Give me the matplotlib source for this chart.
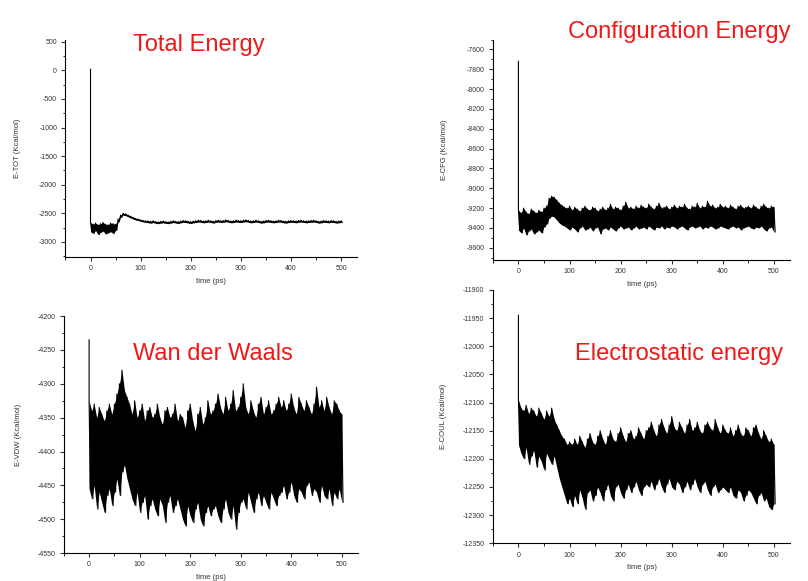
import numpy as np
import matplotlib
matplotlib.use("Agg")
import matplotlib.pyplot as plt
from matplotlib.ticker import MultipleLocator

plt.rcParams['font.family'] = ['Liberation Sans', 'DejaVu Sans']
plt.rcParams['axes.unicode_minus'] = False

# time grid (ps), 5 ps step, upper/lower envelope of the noisy trace
time_ps = np.arange(0, 505, 5)

# Total energy
tot_spike = 20
tot_hi = [-2660, -2690, -2670, -2700, -2680, -2660, -2690, -2700, -2670, -2680, -2690,
          -2600, -2530, -2500, -2510, -2530, -2550, -2570, -2590, -2600, -2615, -2625, -2630,
          -2635, -2640, -2630, -2645, -2650, -2640, -2635, -2645, -2650, -2640,
          -2630, -2640, -2645, -2635, -2625, -2630, -2640, -2645, -2635, -2630,
          -2620, -2625, -2635, -2630, -2620, -2630, -2640, -2625, -2620, -2630,
          -2625, -2615, -2625, -2635, -2630, -2620, -2625, -2630, -2620, -2615,
          -2625, -2635, -2630, -2620, -2630, -2640, -2635, -2625, -2620, -2630,
          -2635, -2630, -2620, -2625, -2635, -2640, -2630, -2625, -2630, -2635,
          -2625, -2620, -2630, -2635, -2630, -2625, -2620, -2630, -2640, -2635,
          -2625, -2630, -2635, -2625, -2630, -2640, -2635, -2630]
tot_lo = [-2820, -2850, -2800, -2870, -2830, -2810, -2860, -2840, -2820, -2850, -2800,
          -2650, -2570, -2530, -2540, -2560, -2580, -2600, -2615, -2625, -2640, -2650, -2655,
          -2665, -2670, -2660, -2675, -2680, -2670, -2665, -2675, -2680, -2670,
          -2660, -2670, -2675, -2665, -2655, -2660, -2670, -2675, -2665, -2660,
          -2650, -2655, -2665, -2660, -2650, -2660, -2670, -2655, -2650, -2660,
          -2655, -2645, -2655, -2665, -2660, -2650, -2655, -2660, -2650, -2645,
          -2655, -2665, -2660, -2650, -2660, -2670, -2665, -2655, -2650, -2660,
          -2665, -2660, -2650, -2655, -2665, -2670, -2660, -2655, -2660, -2665,
          -2655, -2650, -2660, -2665, -2660, -2655, -2650, -2660, -2670, -2665,
          -2655, -2660, -2665, -2655, -2660, -2670, -2665, -2660]

# Configuration energy
cfg_spike = -7720
cfg_hi = [-9220, -9250, -9200, -9240, -9260, -9210, -9230, -9250, -9220, -9240, -9200,
          -9180, -9100, -9080, -9090, -9120, -9150, -9170, -9190,
          -9200, -9180, -9220, -9190, -9210, -9230, -9200, -9180, -9210, -9220,
          -9190, -9200, -9230, -9210, -9190, -9220, -9200, -9160, -9210, -9190,
          -9200, -9220, -9180, -9140, -9200, -9190, -9210, -9180, -9200, -9170,
          -9190, -9200, -9160, -9190, -9210, -9180, -9150, -9200, -9190, -9180,
          -9210, -9190, -9170, -9200, -9180, -9190, -9160, -9200, -9210, -9180,
          -9190, -9150, -9200, -9180, -9190, -9130, -9180, -9170, -9200, -9190,
          -9160, -9190, -9180, -9200, -9170, -9190, -9210, -9180, -9170, -9200,
          -9190, -9180, -9200, -9170, -9190, -9210, -9180, -9160, -9190, -9200,
          -9180, -9190]
cfg_lo = [-9420, -9450, -9400, -9470, -9430, -9410, -9460, -9440, -9420, -9450, -9390,
          -9360, -9300, -9280, -9290, -9320, -9350, -9370, -9380,
          -9400, -9420, -9390, -9410, -9440, -9400, -9380, -9420, -9410, -9390,
          -9430, -9400, -9390, -9460, -9410, -9400, -9420, -9390, -9410, -9430,
          -9400, -9380, -9410, -9400, -9390, -9420, -9400, -9380, -9410, -9400,
          -9390, -9410, -9380, -9400, -9420, -9390, -9400, -9380, -9410, -9390,
          -9400, -9380, -9390, -9410, -9390, -9380, -9400, -9420, -9390, -9380,
          -9400, -9390, -9380, -9410, -9390, -9400, -9380, -9390, -9410, -9400,
          -9380, -9390, -9400, -9410, -9390, -9380, -9400, -9390, -9420, -9400,
          -9390, -9380, -9400, -9410, -9390, -9400, -9380, -9410, -9430, -9400,
          -9390, -9440]

# Van der Waals energy
vdw_spike = -4235
vdw_hi = [-4325, -4340, -4330, -4350, -4335, -4345, -4355, -4340, -4330, -4345, -4330,
          -4315, -4300, -4280, -4310, -4320,
          -4330, -4345, -4325, -4350, -4340, -4330, -4355, -4340, -4335, -4350,
          -4345, -4330, -4350, -4360, -4340, -4335, -4350, -4345, -4330, -4355, -4345,
          -4350, -4365, -4340, -4330, -4355, -4370, -4345, -4335, -4360, -4350, -4325, -4345, -4340,
          -4330, -4315, -4335, -4345, -4320, -4340, -4330, -4310, -4340, -4335, -4320,
          -4300, -4335, -4345, -4325, -4340, -4350, -4330, -4320, -4345, -4335, -4325, -4345,
          -4340, -4330, -4320, -4335,
          -4325, -4340, -4330, -4315, -4335, -4345, -4320, -4330, -4340, -4325, -4335, -4345, -4330,
          -4305, -4335, -4325, -4340, -4320, -4335, -4345, -4325, -4330, -4340, -4345]
vdw_lo = [-4455, -4470, -4450, -4485, -4460, -4475, -4490, -4465, -4455, -4480, -4460,
          -4440, -4465, -4430, -4420, -4440,
          -4455, -4470, -4480, -4460, -4490, -4475, -4465, -4500, -4480, -4470,
          -4485, -4495, -4470, -4480, -4505, -4475, -4465, -4490, -4480, -4470, -4485,
          -4500, -4510, -4480, -4495, -4505, -4485, -4475, -4500, -4510, -4490, -4480, -4495, -4485,
          -4480, -4495, -4505, -4485, -4470, -4490, -4500, -4480, -4515, -4490, -4475,
          -4470, -4485, -4460, -4475, -4490, -4470, -4460, -4480, -4465, -4475, -4485, -4460,
          -4470, -4480, -4465, -4460,
          -4450, -4470, -4460, -4445, -4465, -4475, -4455, -4460, -4470, -4450, -4445, -4465, -4455,
          -4460, -4475, -4450, -4465, -4470, -4455, -4480, -4460, -4470, -4455, -4475]

# Electrostatic energy
coul_spike = -11945
coul_hi = [-12095, -12110, -12115, -12105, -12120, -12110, -12115, -12125, -12110, -12120,
           -12130, -12115, -12125, -12110, -12130,
           -12140, -12150, -12160, -12165, -12175, -12170, -12175,
           -12165, -12175, -12160, -12170, -12180, -12165, -12155, -12170, -12175, -12160,
           -12150, -12165, -12175, -12160, -12150, -12165, -12170, -12155, -12145, -12160,
           -12170, -12155, -12150, -12165, -12160, -12145, -12155, -12165, -12150,
           -12145, -12135, -12150, -12160, -12140, -12130, -12145, -12155, -12140, -12125,
           -12145, -12150, -12135, -12145, -12155, -12140, -12130, -12150, -12145, -12135,
           -12150, -12155, -12140, -12135, -12145, -12150, -12130, -12145, -12155, -12140,
           -12150, -12155, -12145, -12160, -12150, -12140, -12155, -12160, -12145, -12150,
           -12160, -12145, -12140, -12155, -12165, -12150, -12160, -12170, -12165, -12175]
coul_lo = [-12175, -12190, -12200, -12180, -12210, -12195, -12185, -12215, -12195, -12205,
           -12220, -12190, -12200, -12210, -12195,
           -12215, -12235, -12250, -12265, -12280, -12270, -12285,
           -12265, -12280, -12255, -12270, -12290, -12260, -12255, -12275, -12265, -12250,
           -12260, -12275, -12255, -12245, -12265, -12275, -12250, -12245, -12260, -12270,
           -12255, -12245, -12260, -12250, -12240, -12255, -12265, -12250, -12245,
           -12250, -12240, -12255, -12245, -12235, -12250, -12260, -12245, -12235, -12250,
           -12255, -12240, -12245, -12260, -12250, -12240, -12255, -12245, -12235, -12250,
           -12260, -12245, -12240, -12255, -12265, -12250, -12245, -12260, -12255, -12250,
           -12255, -12260, -12250, -12265, -12270, -12255, -12260, -12275, -12265, -12255,
           -12260, -12270, -12280, -12265, -12260, -12275, -12270, -12285, -12290, -12280]


def trace(spike, hi, lo):
    # zigzag between the upper and lower envelope to get the noisy band
    t = np.empty(2 * len(time_ps))
    v = np.empty(2 * len(time_ps))
    t[0::2] = time_ps
    t[1::2] = time_ps + 2.5
    v[0::2] = hi
    v[1::2] = lo
    return np.concatenate([[0], t]), np.concatenate([[spike], v])


def setup(ax, ylabel, ylim, ymajor, yminor, xlim, labelpad):
    ax.set_xlim(*xlim)
    ax.set_ylim(*ylim)
    ax.spines['top'].set_visible(False)
    ax.spines['right'].set_visible(False)
    ax.xaxis.set_major_locator(MultipleLocator(100))
    ax.xaxis.set_minor_locator(MultipleLocator(50))
    ax.yaxis.set_major_locator(MultipleLocator(ymajor))
    ax.yaxis.set_minor_locator(MultipleLocator(yminor))
    ax.tick_params(which='major', direction='out', length=3, width=0.8,
                   labelsize=5, colors='#333333', pad=3)
    ax.tick_params(which='minor', direction='out', length=1.8, width=0.6)
    ax.set_xlabel('time (ps)', fontsize=5.5, color='#333333', labelpad=4)
    ax.set_ylabel(ylabel, fontsize=5.5, color='#333333', labelpad=labelpad)


fig = plt.figure(figsize=(8.08, 5.81), dpi=100)

panels = [
    ([0.081, 0.558, 0.361, 0.373], 'E-TOT (Kcal/mol)', (-3260, 530), 500, 250,
     (tot_spike, tot_hi, tot_lo), 13),
    ([0.610, 0.553, 0.368, 0.379], 'E-CFG (Kcal/mol)', (-9720, -7500), 200, 100,
     (cfg_spike, cfg_hi, cfg_lo), 13),
    ([0.079, 0.048, 0.364, 0.408], 'E-VDW (Kcal/mol)', (-4550, -4200), 50, 25,
     (vdw_spike, vdw_hi, vdw_lo), 11),
    ([0.610, 0.065, 0.368, 0.436], 'E-COUL (Kcal/mol)', (-12350, -11900), 50, 25,
     (coul_spike, coul_hi, coul_lo), 11),
]

for rect, ylabel, ylim, ymaj, ymin, series, lpad in panels:
    ax = fig.add_axes(rect)
    spike, hi, lo = series
    ax.fill_between(time_ps, hi, lo, color='black', lw=0)
    t, v = trace(spike, hi, lo)
    ax.plot(t, v, color='black', lw=0.8)
    setup(ax, ylabel, ylim, ymaj, ymin, (-50, 532), lpad)

title_kw = dict(color='#f01818', fontsize=17, va='center', ha='left')
fig.text(133 / 808, 1 - 45 / 581, 'Total Energy', **title_kw)
fig.text(568 / 808, 1 - 32 / 581, 'Configuration Energy', **title_kw)
fig.text(133 / 808, 1 - 354 / 581, 'Wan der Waals', **title_kw)
fig.text(575 / 808, 1 - 354 / 581, 'Electrostatic energy', **title_kw)

fig.savefig('out.png', dpi=100)
